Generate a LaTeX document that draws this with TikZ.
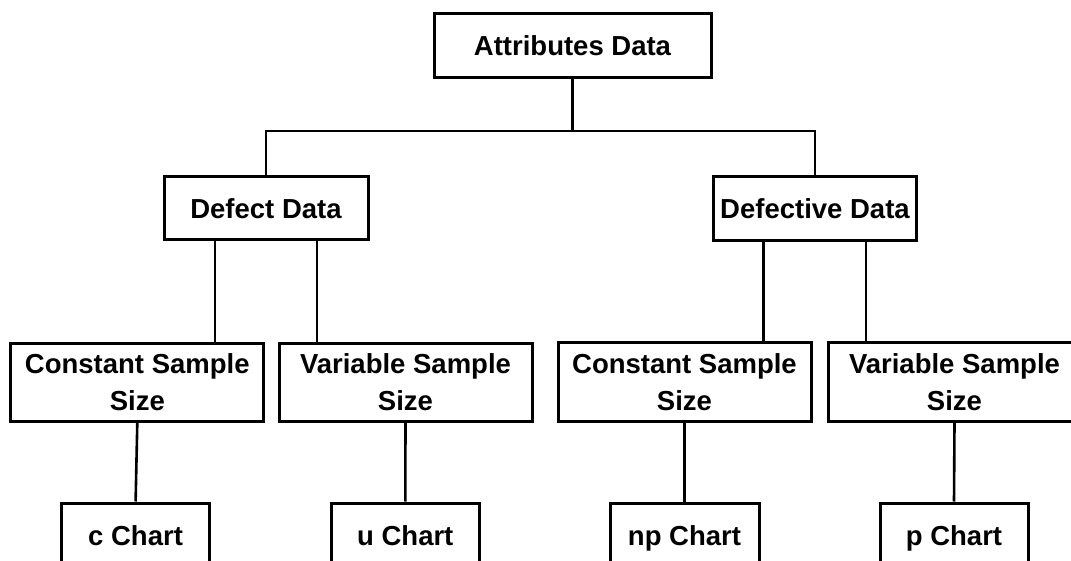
\documentclass[tikz,border=0pt]{standalone}
\usepackage{fontspec}
\setmainfont{Liberation Sans}
\begin{document}
\begin{tikzpicture}[x=1pt,y=-1pt,
  box/.style={draw=black, line width=3pt, rectangle, inner sep=0pt,
    align=center, font=\fontsize{27.5}{37}\selectfont\bfseries},
  chartbox/.style={box, minimum height=64pt, text height=20pt, text depth=0pt},
  link/.style={draw=black, line width=2.6pt}]
% page area; boxes on the lower and right edges run past it
\fill[white] (0,0) rectangle (1071,561);
\clip (0,0) rectangle (1071,561);

% top level
\node[box, minimum width=277pt, minimum height=64pt] (attr) at (572.5,46) {Attributes Data};

% second level
\node[box, minimum width=204pt, minimum height=63pt] (defect) at (266,208.5) {Defect Data};
\node[box, minimum width=203pt, minimum height=64pt] (defective) at (815,209) {Defective Data};

% sample size level
\node[box, minimum width=253pt, minimum height=78pt] (cs1) at (137.3,382.5) {Constant Sample\\Size};
\node[box, minimum width=253pt, minimum height=78pt] (vs1) at (405.5,382.5) {Variable Sample\\Size};
\node[box, minimum width=253pt, minimum height=79pt] (cs2) at (684.5,382) {Constant Sample\\Size};
\node[box, minimum width=253pt, minimum height=79pt] (vs2) at (954.5,382) {Variable Sample\\Size};

% chart level
\node[chartbox, minimum width=148pt] (cc) at (135.6,535) {c Chart};
\node[chartbox, minimum width=148pt] (uc) at (405.3,535) {u Chart};
\node[chartbox, minimum width=149pt] (npc) at (684.5,535) {np Chart};
\node[chartbox, minimum width=148pt] (pc) at (954,535) {p Chart};

% connectors
\coordinate (bus) at (572.5,131);
\draw[link] (attr.south) -- (bus);
\draw[link] (defect.north) |- (bus) -| (defective.north);

\coordinate (d1) at ([xshift=-51pt]defect.south);
\coordinate (d2) at ([xshift=51pt]defect.south);
\coordinate (e1) at ([xshift=-51.5pt]defective.south);
\coordinate (e2) at ([xshift=51pt]defective.south);
\draw[link] (d1) -- (d1 |- cs1.north);
\draw[link] (d2) -- (d2 |- vs1.north);
\draw[link] (e1) -- (e1 |- cs2.north);
\draw[link] (e2) -- (e2 |- vs2.north);

\draw[link] (cs1.south) -- (cc.north);
\draw[link] (vs1.south) -- (uc.north);
\draw[link] (cs2.south) -- (npc.north);
\draw[link] (vs2.south) -- (pc.north);
\end{tikzpicture}
\end{document}
